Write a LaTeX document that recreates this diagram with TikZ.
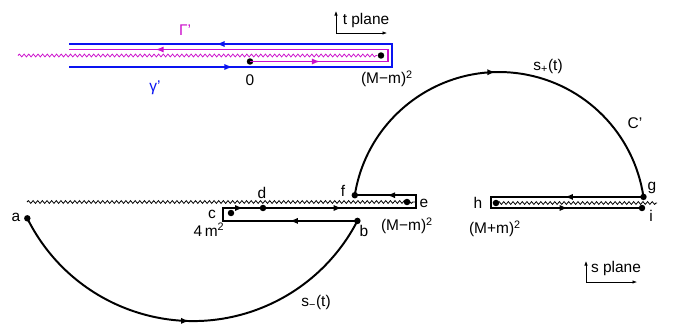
\documentclass[tikz,border=0pt]{standalone}
\usepackage{fontspec}
\setmainfont{Liberation Sans}
\usetikzlibrary{arrows.meta, decorations.pathmorphing, decorations.markings}
\definecolor{gamc}{HTML}{0A14F0}
\definecolor{bigc}{HTML}{CC10CC}
\tikzset{
  cont/.style={line width=1.4pt, line join=miter},
  cut/.style={line width=0.55pt, decorate, decoration={snake, segment length=3.3pt, amplitude=1pt}},
  dot/.style={circle, fill=black, inner sep=0pt, minimum size=4.6pt},
  lbl/.style={font=\fontsize{11}{13}\selectfont, inner sep=1pt},
  axis/.style={-{Latex[length=3.2pt,width=2.4pt]}, line width=0.4pt},
  marks/.style={postaction={decorate}, decoration={markings, #1}},
}

\begin{document}
\begin{tikzpicture}[x=0.025cm, y=0.025cm, >={Latex[length=6pt,width=4.4pt]}]
\useasboundingbox (0,0) rectangle (673,-324);

% ---------------- t plane ----------------
\node[dot] (zero) at (250,-61.5) {};
\node[dot] (tmm) at (381,-55.5) {};
\coordinate (tcut) at (18,-55.5);
\draw[bigc, cut] (tcut) -- (tmm);
% gamma' round the cut
\coordinate (g1) at (69,-67);
\coordinate (g2) at (392,-67);
\coordinate (g3) at (392,-44);
\coordinate (g4) at (69,-44);
\draw[gamc, cont, marks={mark=at position 0.245 with {\arrow{>}}, mark=at position 0.78 with {\arrow{>}}}]
  (g1) -- (g2) -- (g3) -- (g4);
% Gamma' from 0
\coordinate (m1) at (388,-61.5);
\coordinate (m2) at (388,-49.5);
\coordinate (m3) at (69,-49.5);
\draw[bigc, cont, marks={mark=at position 0.15 with {\arrow{>}}, mark=at position 0.816 with {\arrow{>}}}]
  (zero.center) -- (m1) -- (m2) -- (m3);
\node[lbl, text=bigc] (lGam) at (185,-30) {Γ'};
\node[lbl, text=gamc] (lgam) at (155,-88) {γ'};
\node[lbl] (lzero) at (250,-80) {0};
\node[lbl] (ltmm) at (387,-79) {(M−m)\textsuperscript{2}};
% axes
\coordinate (to) at (336,-33);
\coordinate (tup) at (336,-11);
\coordinate (tright) at (387,-33);
\draw[axis] (to) -- (tup);
\draw[axis] (to) -- (tright);
\node[lbl] (ltp) at (366,-20) {t plane};

% ---------------- s plane ----------------
\coordinate (cutl) at (27,-202);
\coordinate (cutr) at (415,-202);
\draw[cut] (cutl) -- (cutr);
\coordinate (cut2l) at (493,-203);
\coordinate (cut2r) at (657,-203);
\draw[cut] (cut2l) -- (cut2r);

\node[dot] (a) at (27.3,-218.3) {};
\node[dot] (b) at (357.4,-220.9) {};
\node[dot] (c) at (231,-213) {};
\node[dot] (d) at (263,-208) {};
\node[dot] (e) at (407,-202) {};
\node[dot] (f) at (354.8,-195.2) {};
\node[dot] (g) at (643.5,-196.9) {};
\node[dot] (h) at (496,-203) {};
\node[dot] (i) at (642,-208) {};

% lower arc s_-(t)
\draw[cont, marks={mark=at position 0.495 with {\arrow{>}}}]
  (a) arc[start angle=206.4, end angle=332.7, radius=185];
% round the cut from 4m^2 to (M-m)^2
\coordinate (k1) at (223,-220.9);
\coordinate (k2) at (223,-208);
\coordinate (k3) at (416,-208);
\coordinate (k4) at (416,-195.2);
\draw[cont, marks={mark=at position 0.164 with {\arrow{>}}, mark=at position 0.405 with {\arrow{>}}, mark=at position 0.643 with {\arrow{>}}, mark=at position 0.923 with {\arrow{>}}}]
  (b.center) -- (k1) -- (k2) -- (k3) -- (k4) -- (f.center);
% upper arc s_+(t)
\draw[cont, marks={mark=at position 0.49 with {\arrow{>}}}]
  (f) arc[start angle=171, end angle=8.3, radius=146];
% round the cut from (M+m)^2
\coordinate (r1) at (491,-196.9);
\coordinate (r2) at (491,-208);
\draw[cont, marks={mark=at position 0.251 with {\arrow{>}}, mark=at position 0.765 with {\arrow{>}}}]
  (g.center) -- (r1) -- (r2) -- (i.center);

% labels
\node[lbl] (la) at (16,-217) {a};
\node[lbl] (lb) at (364,-231) {b};
\node[lbl] (lc) at (212,-214) {c};
\node[lbl] (ld) at (262,-193) {d};
\node[lbl] (le) at (424,-203) {e};
\node[lbl] (lf) at (343,-191) {f};
\node[lbl] (lg) at (652,-188) {g};
\node[lbl] (lh) at (478,-203) {h};
\node[lbl] (li) at (651,-216) {i};
\node[lbl] (l4m) at (209,-230) {4\,m\textsuperscript{2}};
\node[lbl] (lsmm) at (407,-226) {(M−m)\textsuperscript{2}};
\node[lbl] (lspm) at (495,-229) {(M+m)\textsuperscript{2}};
\node[lbl] (lsp) at (548,-66) {s\textsubscript{+}(t)};
\node[lbl] (lC) at (635,-123) {C'};
\node[lbl] (lsm) at (316,-302) {s\textsubscript{−}(t)};
% axes
\coordinate (so) at (586,-282);
\coordinate (sup) at (586,-261);
\coordinate (sright) at (637,-282);
\draw[axis] (so) -- (sup);
\draw[axis] (so) -- (sright);
\node[lbl] (lsplane) at (616,-268) {s plane};
\end{tikzpicture}
\end{document}
